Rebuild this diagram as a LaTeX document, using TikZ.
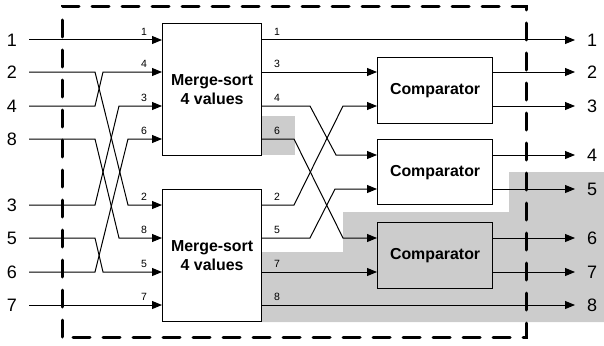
\documentclass[tikz,border=0pt]{standalone}
\usepackage{fontspec}
\setmainfont{Liberation Sans}
\usetikzlibrary{arrows.meta}
\definecolor{shadegray}{RGB}{204,204,204}

\begin{document}
\begin{tikzpicture}[x=1pt,y=-1pt,
  wire/.style={line width=1pt},
  sig/.style={wire,-{Triangle[length=10pt,width=8pt]}},
  block/.style={draw,line width=1.2pt,inner sep=0pt,anchor=north west,
    font=\fontsize{15.9}{19.5}\selectfont\bfseries,align=center},
  sorter/.style={block,minimum width=99pt,minimum height=132pt},
  cmpbox/.style={block,minimum width=115pt,minimum height=66pt},
  io/.style={font=\fontsize{18}{18}\selectfont,inner sep=0pt},
  tag/.style={font=\fontsize{10.5}{10.5}\selectfont,inner sep=0pt},
  frame/.style={line width=3pt,dash pattern=on 17pt off 13pt,line cap=round}]

\useasboundingbox (0,0) rectangle (604,345);

% shaded part of the network
\fill[shadegray] (262,116) rectangle (295,155);
\fill[shadegray] (262,252) -- (343,252) -- (343,212) -- (509,212) -- (509,172)
  -- (604,172) -- (604,322) -- (262,322) -- cycle;

% blocks
\node[sorter] (ms1) at (162,23) {Merge-sort\\4 values};
\node[sorter] (ms2) at (162,189) {Merge-sort\\4 values};
\node[cmpbox] (c1) at (377,57) {Comparator};
\node[cmpbox,minimum height=65pt] (c2) at (377,139) {Comparator};
\node[cmpbox,fill=shadegray] (c3) at (377,222) {Comparator};

% input labels and wire starts
\foreach \t/\y/\n in {1/40/a, 2/72/b, 4/106/c, 8/139/d, 3/205/e, 5/238/f, 6/272/g, 7/305/h}{
  \node[io] (in\n) at (12,\y) {\t};
  \coordinate (s\n) at (29,\y);
}

% output labels and wire ends
\foreach \t/\y in {1/40, 2/72, 3/106, 4/155, 5/189, 6/238, 7/272, 8/305}{
  \node[io] (out\t) at (592,\y) {\t};
  \coordinate (e\t) at (575,\y);
}

% input pins of the sorters
\foreach \n/\y in {1/40, 2/72, 3/106, 4/139}{
  \coordinate (pa\n) at (ms1.west |- 0,\y);
  \coordinate (qa\n) at (ms1.east |- 0,\y);
}
\foreach \n/\y in {1/205, 2/238, 3/272, 4/305}{
  \coordinate (pb\n) at (ms2.west |- 0,\y);
  \coordinate (qb\n) at (ms2.east |- 0,\y);
}
% comparator pins
\foreach \c/\ya/\yb in {1/72/106, 2/155/189, 3/238/272}{
  \coordinate (ci\c a) at (c\c.west |- 0,\ya);
  \coordinate (ci\c b) at (c\c.west |- 0,\yb);
  \coordinate (co\c a) at (c\c.east |- 0,\ya);
  \coordinate (co\c b) at (c\c.east |- 0,\yb);
}

% inputs into the two sorters
\draw[sig] (sa) -- (pa1);
\draw[sig] (sb) -- (95,72) -- (128,205) -- (pb1);
\draw[sig] (sc) -- (95,106) -- (103,72) -- (pa2);
\draw[sig] (sd) -- (95,139) -- (119,238) -- (pb2);
\draw[sig] (se) -- (95,205) -- (119,106) -- (pa3);
\draw[sig] (sf) -- (95,238) -- (103,272) -- (pb3);
\draw[sig] (sg) -- (95,272) -- (128,139) -- (pa4);
\draw[sig] (sh) -- (pb4);

\foreach \t/\y in {1/40, 4/72, 3/106, 6/139, 2/205, 8/238, 5/272, 7/305}
  \node[tag] at (144,\y-8.5) {\t};

% sorter outputs into the comparators
\draw[sig] (qa1) -- (e1);
\draw[sig] (qa2) -- (ci1a);
\draw[sig] (qa3) -- (310,106) -- (336,155) -- (ci2a);
\draw[sig] (qa4) -- (294,139) -- (343,238) -- (ci3a);
\draw[sig] (qb1) -- (294,205) -- (343,106) -- (ci1b);
\draw[sig] (qb2) -- (310,238) -- (335,189) -- (ci2b);
\draw[sig] (qb3) -- (ci3b);
\draw[sig] (qb4) -- (e8);

\foreach \t/\y in {1/40, 3/72, 4/106, 6/139, 2/205, 5/238, 7/272, 8/305}
  \node[tag] at (277,\y-8.5) {\t};

% comparator outputs
\draw[sig] (co1a) -- (e2);
\draw[sig] (co1b) -- (e3);
\draw[sig] (co2a) -- (e4);
\draw[sig] (co2b) -- (e5);
\draw[sig] (co3a) -- (e6);
\draw[sig] (co3b) -- (e7);

% boundary of the whole network
\draw[frame] (62,337) -- (62,7) -- (526,7) -- (526,337) -- cycle;

\end{tikzpicture}
\end{document}
